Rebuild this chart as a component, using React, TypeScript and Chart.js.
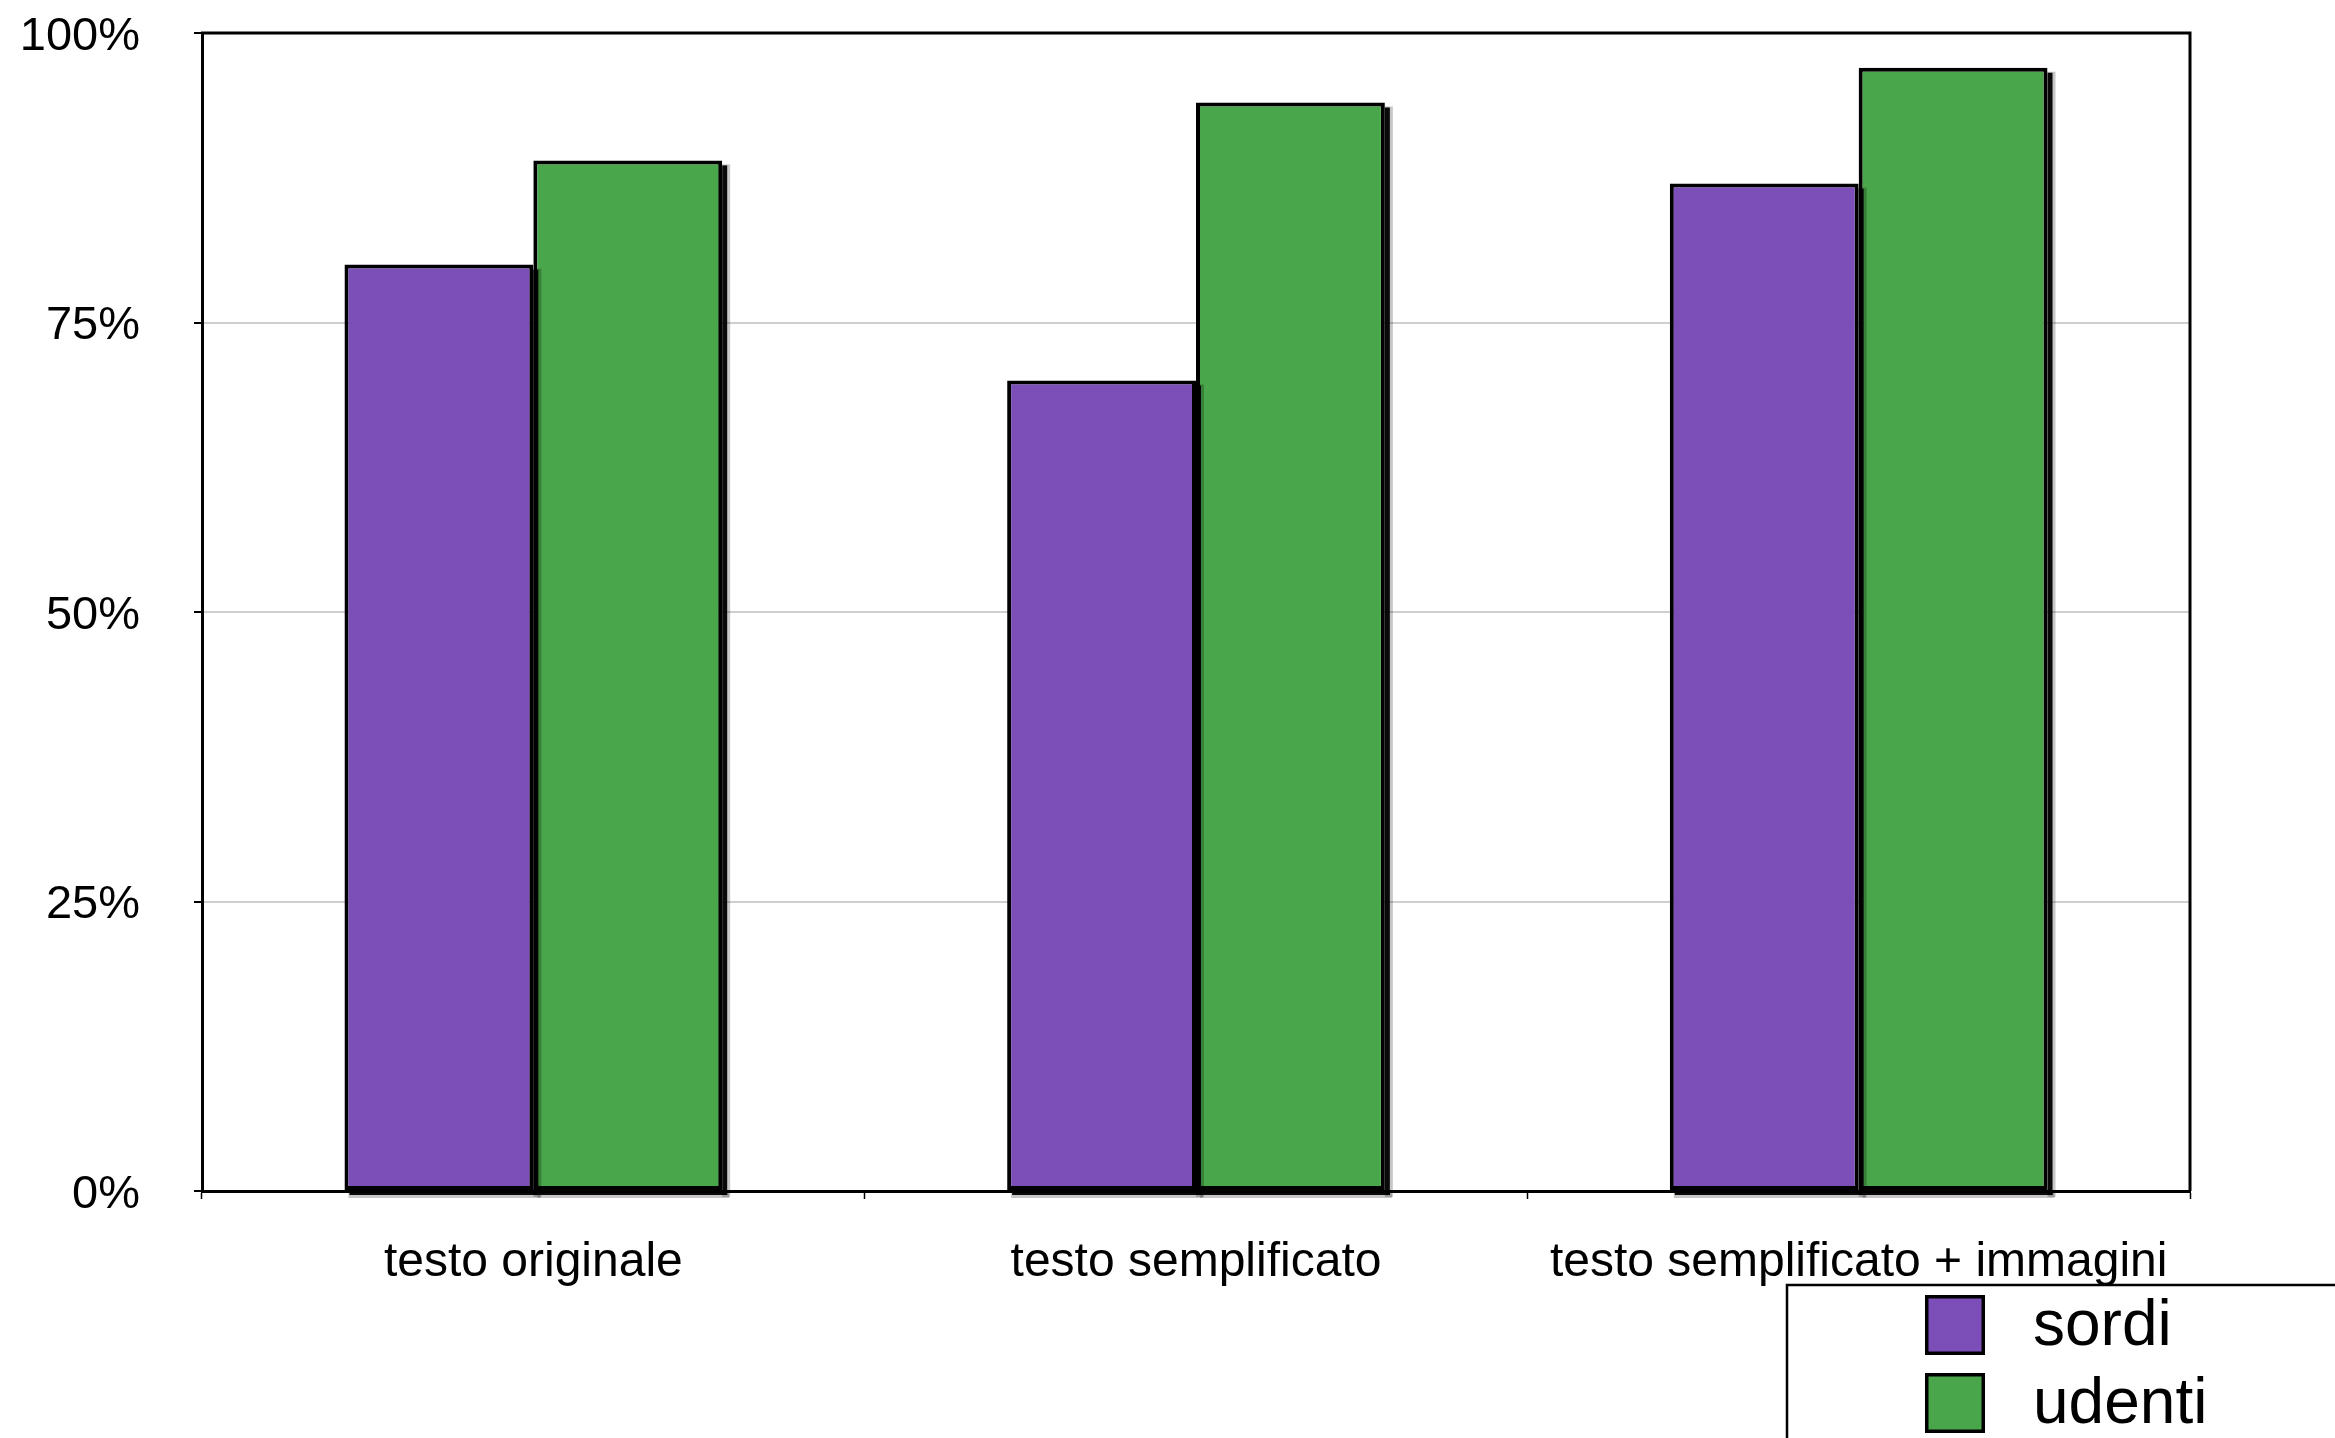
import React, { useEffect, useRef } from "react";
import { Chart, registerables } from "chart.js";

Chart.register(...registerables);

const categories = ["testo originale", "testo semplificato", "testo semplificato + immagini"];
const sordiValues = [80, 70, 87];
const udentiValues = [89, 94, 97];
const seriesLabels = ["sordi", "udenti"];
const yTicks = [0, 25, 50, 75, 100];

const W = 2335;
const H = 1438;
const PURPLE = "#7B4EB8";
const GREEN = "#4AA64A";

const frameAndShadow = {
  id: "frameAndShadow",
  afterDatasetsDraw(chart: any) {
    const ctx = chart.ctx;
    ctx.save();
    const off = 5;
    chart.data.datasets.forEach((_: any, di: number) => {
      const meta = chart.getDatasetMeta(di);
      meta.data.forEach((el: any) => {
        const { x, y, base, width } = el.getProps(["x", "y", "base", "width"], true);
        const left = x - width / 2;
        const right = x + width / 2;
        ctx.fillStyle = "rgba(0,0,0,0.22)";
        ctx.fillRect(right, y + off - 1, off + 3, base - y + 3);
        ctx.fillRect(left + off - 1, base, right - left + 3, off + 3);
        ctx.fillStyle = "rgba(0,0,0,0.95)";
        ctx.fillRect(right, y + off, off, base - y);
        ctx.fillRect(left + off, base, right - left, off);
      });
    });
    ctx.restore();
  },
  afterDraw(chart: any) {
    const ctx = chart.ctx;
    const a = chart.chartArea;
    ctx.save();
    ctx.strokeStyle = "#000";
    ctx.lineWidth = 3;
    ctx.beginPath();
    ctx.moveTo(a.left - 1, a.top);
    ctx.lineTo(a.right, a.top);
    ctx.lineTo(a.right, a.bottom);
    ctx.stroke();

    // legend box
    const bx = 1787;
    const by = 1285;
    ctx.lineWidth = 2.5;
    ctx.beginPath();
    ctx.moveTo(bx, H + 5);
    ctx.lineTo(bx, by);
    ctx.lineTo(W + 5, by);
    ctx.stroke();
    const sw = 60;
    const sx = 1925;
    const rows = [1295, 1373];
    chart.data.datasets.forEach((ds: any, i: number) => {
      const sy = rows[i];
      ctx.fillStyle = ds.backgroundColor;
      ctx.fillRect(sx, sy, sw, sw);
      ctx.lineWidth = 3.5;
      ctx.strokeStyle = "#000";
      ctx.strokeRect(sx + 1.75, sy + 1.75, sw - 3.5, sw - 3.5);
      ctx.fillStyle = "#000";
      ctx.font = '64px "Liberation Sans", Arial, sans-serif';
      ctx.textAlign = "left";
      ctx.textBaseline = "middle";
      ctx.fillText(ds.label, 2033, sy + sw / 2 + 2);
    });
    ctx.restore();
  },
};

export default function App() {
  const ref = useRef<HTMLCanvasElement | null>(null);
  useEffect(() => {
    if (!ref.current) return;
    Chart.defaults.font.family = '"Liberation Sans", Arial, sans-serif';
    const chart = new Chart(ref.current, {
      type: "bar",
      data: {
        labels: categories,
        datasets: [
          {
            label: seriesLabels[0],
            data: sordiValues,
            backgroundColor: PURPLE,
            borderColor: "#000",
            borderWidth: 4,
            borderSkipped: false,
            categoryPercentage: 0.57,
            barPercentage: 1,
          },
          {
            label: seriesLabels[1],
            data: udentiValues,
            backgroundColor: GREEN,
            borderColor: "#000",
            borderWidth: 4,
            borderSkipped: false,
            categoryPercentage: 0.57,
            barPercentage: 1,
          },
        ],
      },
      options: {
        responsive: false,
        animation: false,
        devicePixelRatio: 1,
        layout: { padding: { left: 0, top: 33, right: 145, bottom: 0 } },
        plugins: {
          legend: { display: false },
          tooltip: { enabled: false },
        },
        scales: {
          x: {
            grid: {
              display: true,
              drawOnChartArea: false,
              drawTicks: true,
              tickLength: 8,
              tickColor: "#000",
              tickWidth: 1.5,
              offset: true,
            },
            border: { display: true, color: "#000", width: 3 },
            ticks: {
              color: "#000",
              font: { size: 48 },
              padding: 35,
              maxRotation: 0,
              autoSkip: false,
            },
            afterFit: (axis: any) => {
              axis.height = H - 1191;
            },
          },
          y: {
            min: 0,
            max: 100,
            afterBuildTicks: (axis: any) => {
              axis.ticks = yTicks.map((v) => ({ value: v }));
            },
            grid: {
              color: "#cfcfcf",
              lineWidth: 2,
              drawTicks: true,
              tickLength: 8,
              tickColor: "#000",
              tickWidth: 2,
            },
            border: { display: true, color: "#000", width: 3 },
            ticks: {
              color: "#000",
              font: { size: 47 },
              padding: 54,
              labelOffset: 4,
              callback: (v: any) => v + "%",
            },
            afterFit: (axis: any) => {
              axis.width = 202;
              axis.paddingTop = 0;
              axis.paddingBottom = 0;
            },
          },
        },
      },
      plugins: [frameAndShadow],
    });
    return () => chart.destroy();
  }, []);
  return (
    <div style={{ position: "fixed", left: 0, top: 0, width: W, height: H, background: "#fff" }}>
      <canvas ref={ref} width={W} height={H} style={{ width: W, height: H, display: "block" }} />
    </div>
  );
}
